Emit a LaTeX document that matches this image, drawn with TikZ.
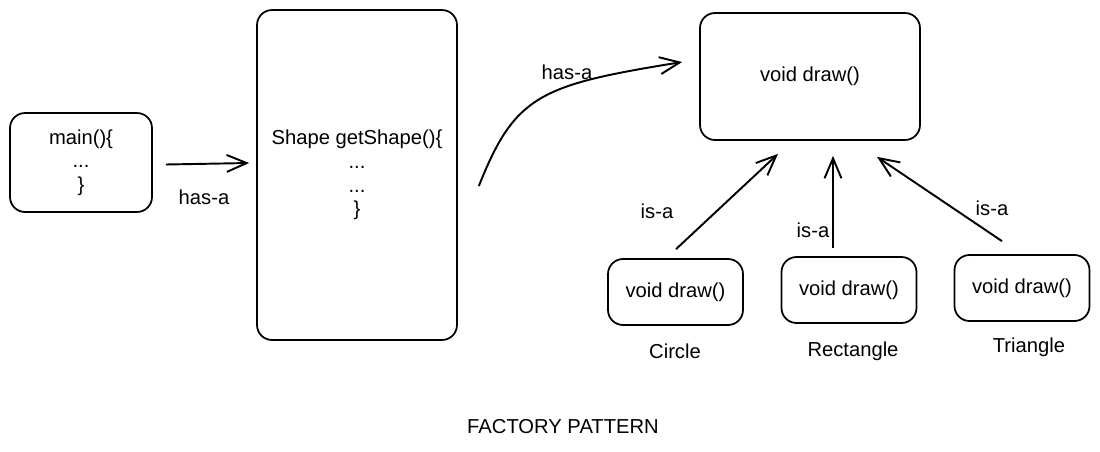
\documentclass[tikz,border=0pt]{standalone}
\usepackage{fontspec}
\setmainfont{Liberation Sans}
\usetikzlibrary{arrows.meta,calc}

\tikzset{
 box/.style={draw, line width=1pt, rounded corners=0.3cm, align=center, font=\fontsize{11.5}{13.5}\selectfont},
 lbl/.style={font=\fontsize{11.5}{13.5}\selectfont, inner sep=1pt},
 link/.style={line width=1.1pt, -{Straight Barb[length=4mm,width=3.4mm,line width=1.1pt]}},
}

\begin{document}
\begin{tikzpicture}[x=0.02cm,y=-0.02cm]
\useasboundingbox (0,0) rectangle (1100,451);
\node[box, minimum width=2.84cm, minimum height=1.98cm] (main) at (81,162.5) {main()\{\\...\\\}};
\node[box, minimum width=4cm, minimum height=6.6cm] (get) at (357,175) {Shape getShape()\{\\...\\...\\\}};
\node[box, minimum width=4.4cm, minimum height=2.54cm] (shape) at (810,76.5) {void draw()};
\foreach \n/\x/\y/\t/\lx/\ly in {circ/675.5/292/Circle/675/351, rect/849/290/Rectangle/853/351, tri/1022/288/Triangle/1029/347} {
 \node[box, minimum width=2.7cm, minimum height=1.32cm] (\n) at (\x,\y) {void draw()};
 \node[lbl] (\n-name) at (\lx,\ly) {\t};
}
% has-a links
\draw[link] ($(main.east)+(13,2)$) -- ($(get.west)+(-7,-12)$);
\node[lbl] (has1) at (204,197) {has-a};
\draw[link] ($(get.east)+(21,11)$) .. controls (515,95) and (540,85) .. ($(shape.west)+(-17,-14.5)$);
\node[lbl] (has2) at (567,72) {has-a};
% is-a links
\draw[link] ($(circ.north)+(0.5,-9)$) -- ($(shape.south)+(-32,13)$);
\draw[link] ($(rect.north)+(-16,-8)$) -- ($(shape.south)+(23,15)$);
\draw[link] ($(tri.north)+(-20,-13)$) -- ($(shape.south)+(67,16)$);
\node[lbl] (is1) at (657,211) {is-a};
\node[lbl] (is2) at (813,230) {is-a};
\node[lbl] (is3) at (992,208) {is-a};
\node[lbl] (title) at (563,427) {FACTORY PATTERN};
\end{tikzpicture}
\end{document}
